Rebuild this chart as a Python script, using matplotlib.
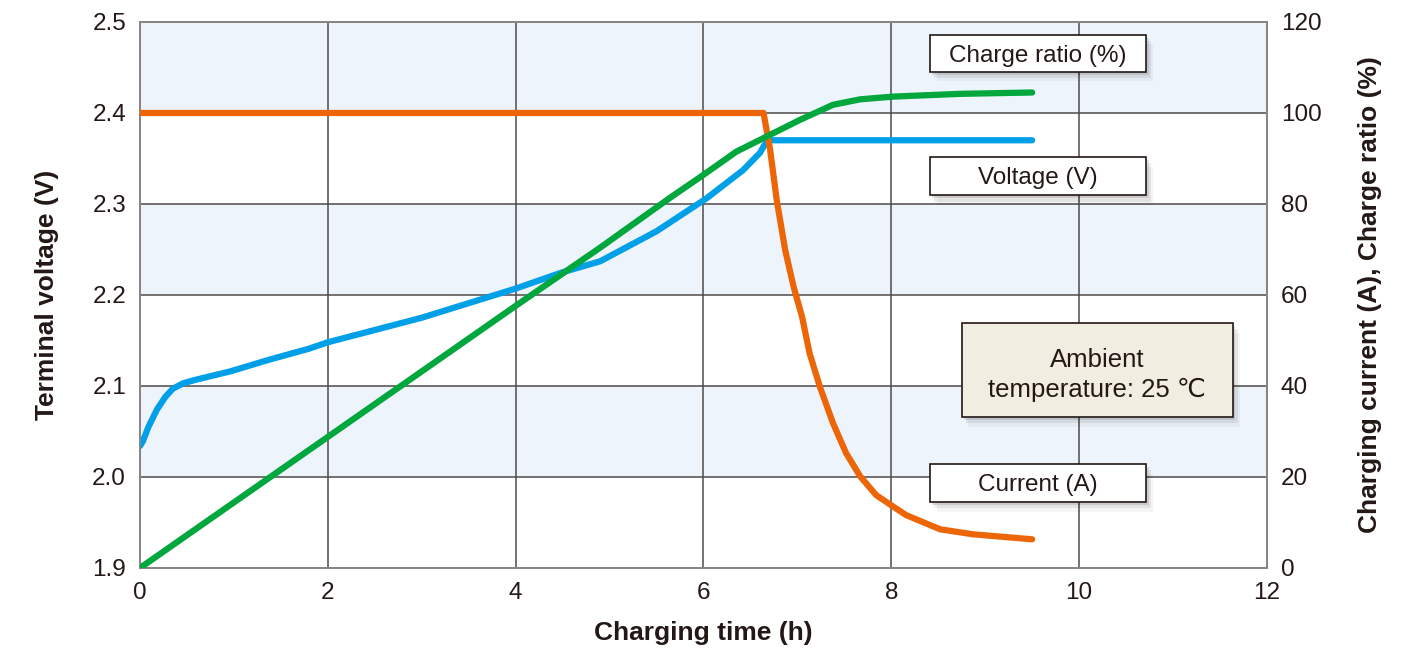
import matplotlib.pyplot as plt
from matplotlib.patches import Rectangle

plt.rcParams['font.family'] = ['Liberation Sans', 'DejaVu Sans']

# ── Data ──────────────────────────────────────────────────────────────────
volt_t = [0.0, 0.03, 0.09, 0.18, 0.27, 0.35, 0.46, 0.60, 0.96, 1.38, 1.8,
          2.0, 3.0, 4.0, 4.5, 4.9, 5.5, 6.03, 6.42, 6.60, 6.68, 7.0, 8.0, 9.5]
volt_v = [2.034, 2.039, 2.055, 2.074, 2.088, 2.097, 2.103, 2.107, 2.116,
          2.129, 2.141, 2.148, 2.175, 2.207, 2.225, 2.237, 2.27, 2.306,
          2.337, 2.356, 2.37, 2.37, 2.37, 2.37]

curr_t = [0.0, 2.0, 4.0, 6.0, 6.64, 6.71, 6.78, 6.87, 6.96, 7.05, 7.13, 7.24,
          7.38, 7.52, 7.67, 7.84, 8.02, 8.16, 8.52, 8.87, 9.5]
curr_a = [100, 100, 100, 100, 100, 91.9, 80.9, 69.9, 61.8, 55.2, 47.2, 39.8,
          31.8, 25.2, 20.1, 16.0, 13.5, 11.6, 8.5, 7.4, 6.3]

ratio_t = [0.0, 1.0, 2.0, 3.0, 4.0, 4.9, 5.64, 6.0, 6.35, 6.67, 7.03, 7.38,
           7.67, 8.02, 8.73, 9.5]
ratio_p = [0.0, 14.4, 28.8, 43.2, 57.6, 70.4, 81.3, 86.4, 91.5, 94.8, 98.5,
           101.8, 103.0, 103.6, 104.2, 104.5]

x_ticks = [0, 2, 4, 6, 8, 10, 12]
v_ticks = [1.9, 2.0, 2.1, 2.2, 2.3, 2.4, 2.5]
r_ticks = [0, 20, 40, 60, 80, 100, 120]

C_ORANGE = "#ec6608"
C_BLUE = "#00a0e9"
C_GREEN = "#00a73c"
GRID = "#4f4a4a"
INK = "#231815"

fig = plt.figure(figsize=(14.11, 6.48), dpi=100)
ax = fig.add_axes([0.0992, 0.1235, 0.7987, 0.8426])
ax2 = ax.twinx()

ax.set_xlim(0, 12)
ax.set_ylim(1.9, 2.5)
ax2.set_ylim(0, 120)

# alternating background bands
for lo in [2.0, 2.2, 2.4]:
    ax.axhspan(lo, lo + 0.1, color="#eef4fc", zorder=0, lw=0)

ax.set_xticks(x_ticks)
ax.set_yticks(v_ticks)
ax.set_yticklabels([f"{v:.1f}" for v in v_ticks])
ax2.set_yticks(r_ticks)
ax.grid(True, color=GRID, lw=1.1, zorder=1)
ax.set_axisbelow(True)

for a in (ax, ax2):
    a.tick_params(length=0, labelsize=17.5, colors=INK, pad=10)
    for s in a.spines.values():
        s.set_color("#8a8585")
        s.set_linewidth(1.3)

ax.set_xlabel("Charging time (h)", fontsize=19, fontweight="bold",
              labelpad=12, color=INK)
ax.set_ylabel("Terminal voltage (V)", fontsize=19, fontweight="bold",
              labelpad=24, color=INK)
ax2.set_ylabel("Charging current (A), Charge ratio (%)", fontsize=19,
               fontweight="bold", labelpad=26, color=INK)

# curves
ax2.plot(curr_t, curr_a, color=C_ORANGE, lw=4.5, solid_capstyle="round",
         solid_joinstyle="round", zorder=3)
ax.plot(volt_t, volt_v, color=C_BLUE, lw=4.5, solid_capstyle="round",
        solid_joinstyle="round", zorder=4)
ax2.plot(ratio_t, ratio_p, color=C_GREEN, lw=4.5, solid_capstyle="round",
         solid_joinstyle="round", zorder=4)
ax2.patch.set_visible(False)


# ── Label boxes (axes fraction coordinates) ──────────────────────────────
def label_box(x0, y0, w, h, lines, face="white", size=17.5):
    tr = ax2.transAxes
    for k, al in [(1, 0.10), (2, 0.07), (3, 0.04)]:
        shadow = Rectangle((x0 + 0.002 * k, y0 - 0.006 * k), w, h,
                           transform=tr, facecolor="#000000", alpha=al,
                           lw=0, zorder=5)
        ax2.add_patch(shadow)
    box = Rectangle((x0, y0), w, h, transform=tr, facecolor=face,
                    edgecolor=INK, lw=1.2, zorder=6)
    ax2.add_patch(box)
    ax2.text(x0 + w / 2, y0 + h / 2, lines, transform=tr, ha="center",
             va="center_baseline", fontsize=size, color=INK, zorder=7,
             linespacing=1.3)


label_box(0.701, 0.909, 0.192, 0.068, "Charge ratio (%)")
label_box(0.701, 0.683, 0.192, 0.070, "Voltage (V)")
label_box(0.701, 0.121, 0.192, 0.070, "Current (A)")
label_box(0.729, 0.277, 0.241, 0.172, "Ambient\ntemperature: 25 \u2103",
          face="#f1ede1", size=18.5)

fig.savefig("out.png", dpi=100)
